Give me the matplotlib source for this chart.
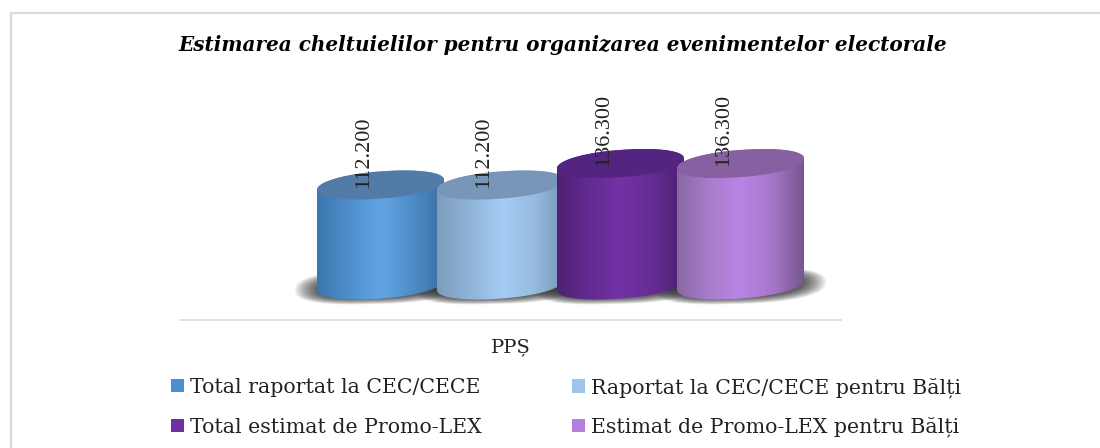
import numpy as np
import matplotlib
matplotlib.use("Agg")
import matplotlib.pyplot as plt
from matplotlib.colors import LinearSegmentedColormap
from matplotlib.lines import Line2D
from matplotlib.patches import Patch, PathPatch
from matplotlib.path import Path
from matplotlib.transforms import IdentityTransform

title = "Estimarea cheltuielilor pentru organizarea evenimentelor electorale"
category = "PPȘ"
series = ["Total raportat la CEC/CECE", "Raportat la CEC/CECE pentru Bălți",
          "Total estimat de Promo-LEX", "Estimat de Promo-LEX pentru Bălți"]
values = [112.2, 112.2, 136.3, 136.3]
labels = ["112.200", "112.200", "136.300", "136.300"]
legend_colors = ["#4a90d2", "#9fc5eb", "#7030a0", "#b27fdc"]
top_colors = ["#527ba8", "#7796b8", "#532480", "#8660a0"]
gradients = [["#3a76ad", "#4f8ecb", "#62a5e6", "#4f8cc6", "#3a70a2"],
             ["#7e9dbb", "#8fb2d6", "#a5ccf4", "#98bde2", "#7797b8"],
             ["#4e2273", "#632a90", "#7332a6", "#672c96", "#4b2170"],
             ["#8a66a5", "#a87cca", "#b984e4", "#a777cb", "#75568f"]]

W, H = 1100, 448
fig = plt.figure(figsize=(W / 100, H / 100), dpi=100, facecolor="white")
fig.add_artist(Line2D([10.5 / W, 10.5 / W, 1], [0, 1 - 13.5 / H, 1 - 13.5 / H],
                      transform=fig.transFigure, color="#d9d9d9", lw=1.6))
SER = ["Liberation Serif", "DejaVu Serif"]
TXT = ["DejaVu Serif"]

ax = fig.add_axes([180 / W, 1 - 320 / H, 661 / W, 230 / H])
PX_X, PX_Y = 120.0, 0.891
ax.set_xlim(-200.5 / PX_X, 460.5 / PX_X)
ax.set_ylim(-35 / PX_Y, 195 / PX_Y)
ax.patch.set_alpha(0)
for s in ("top", "left", "right"):
    ax.spines[s].set_visible(False)
ax.spines["bottom"].set_color("#d9d9d9")
ax.spines["bottom"].set_linewidth(1.1)
ax.yaxis.set_visible(False)
ax.set_xticks([sum(ax.get_xlim()) / 2], [category], family=TXT, fontsize=14, color="#222222")
ax.tick_params(axis="x", length=0, pad=13)

xs = np.arange(len(values))
bar_w = 127 / 120
bars = ax.bar(xs, values, bar_w, color=legend_colors, alpha=0)


def ellipse(cx, cy, a=63.5, b=13.6, s=5.0, p=0.95):
    t = np.linspace(0, 2 * np.pi, 121)
    c, n = np.cos(t), np.sin(t)
    x = a * np.sign(c) * np.abs(c) ** p
    y = s * c + b * np.sign(n) * np.abs(n) ** p
    return np.column_stack([cx + x, cy + y])


def poly(pts, **kw):
    p = PathPatch(Path(np.vstack([pts, pts[0]]), closed=True), transform=IdentityTransform(), **kw)
    ax.add_patch(p)
    return p


# ground shadows: a stack of faint tilted blobs fading outwards
for i, v in enumerate(values):
    c0 = ax.transData.transform((xs[i], 0))
    for k in np.linspace(1, 0, 36) ** 1.3:
        poly(ellipse(c0[0], c0[1] - 1, 64 + 22 * k, 12 + 6 * k, 4.0, 0.8), fc="#404040", ec="none",
             alpha=0.04, lw=0, zorder=1, clip_on=False)

# cylinders
for i, (b, v) in enumerate(zip(bars, values)):
    z = 2 + i
    c0 = ax.transData.transform((xs[i], 0))
    c1 = ax.transData.transform((xs[i], v))
    e0, e1 = ellipse(*c0), ellipse(*c1)
    # t runs 0..2pi: index 0 = right end, 60 = left end
    # y axis of display points up, so the lower half of the base is 60..120
    outline = np.vstack([e0[60:121], e1[0:61]])
    cmap = LinearSegmentedColormap.from_list(f"c{i}", gradients[i])
    im = ax.imshow(np.linspace(0, 1, 256)[None, :], cmap=cmap, aspect="auto", zorder=z,
                   extent=[b.get_x(), b.get_x() + b.get_width(), -30, v + 30], interpolation="bilinear")
    im.set_clip_path(Path(np.vstack([outline, outline[0]]), closed=True), IdentityTransform())
    poly(e1, fc=top_colors[i], ec="none", zorder=z + 0.1)

ax.set_xlim(-200.5 / PX_X, 460.5 / PX_X)
ax.set_ylim(-35 / PX_Y, 195 / PX_Y)

for i, (v, lab) in enumerate(zip(values, labels)):
    ax.annotate(lab, (xs[i], v), xytext=(-12.5, -2), textcoords="offset points", rotation=90,
                ha="center", va="bottom", family=SER, fontsize=16, color="#222222", zorder=10,
                annotation_clip=False)

fig.text(563 / W, 1 - 45 / H, title, ha="center", va="center", family="DejaVu Serif",
         fontweight="bold", fontstyle="italic", fontsize=14.4, color="black")

for idx, x0, y0, spacing in (((0, 2), 162.8, 369.5, 1.03), ((1, 3), 563.8, 369, 0.93)):
    handles = [Patch(fc=legend_colors[i], label=series[i]) for i in idx]
    fig.legend(handles=handles, ncol=1, loc="upper left", bbox_to_anchor=(x0 / W, 1 - y0 / H),
               frameon=False, prop={"family": TXT, "size": 14.8}, labelcolor="#222222",
               handlelength=0.63, handleheight=0.63, handletextpad=0.29,
               labelspacing=spacing, borderaxespad=0)
fig.savefig("out.png", dpi=100)
